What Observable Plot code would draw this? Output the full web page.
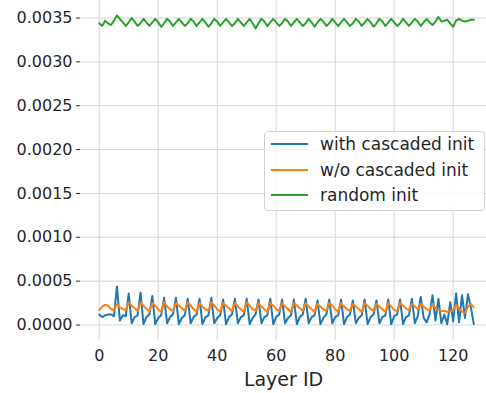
<!DOCTYPE html>
<html><head><meta charset="utf-8">
<script src="https://cdn.jsdelivr.net/npm/d3@7"></script>
<script src="https://cdn.jsdelivr.net/npm/@observablehq/plot@0.6"></script>
<style>
body{margin:0;background:#fff;}
#wrap{position:relative;width:486px;height:393px;overflow:hidden;font-family:"DejaVu Sans",sans-serif;}
#legend{position:absolute;left:264px;top:131px;width:219px;height:78px;border:1px solid #d0d0d0;border-radius:4px;background:rgba(255,255,255,0.85);}
.row{position:absolute;left:0;height:24px;line-height:24px;font-size:17px;color:#262626;white-space:nowrap;}
.row .sw{position:absolute;left:6px;top:11px;width:37px;height:2px;}
.row .lb{position:absolute;left:55px;top:0;}
</style></head>
<body><div id="wrap"></div>
<script>
const seriesNames = ["with cascaded init", "w/o cascaded init", "random init"];
const colors = ["#1f77b4", "#ff7f0e", "#2ca02c"];
const xTicks = [0, 20, 40, 60, 80, 100, 120];
const yTicks = [0, 0.0005, 0.001, 0.0015, 0.002, 0.0025, 0.003, 0.0035];

const withCascaded = [
0.00012,0.00009,0.00011,0.00012,0.00012,0.00010,0.00044,0.00005,0.00011,0.00010,
0.00036,0.00002,0.00009,0.00011,
0.00037,0.00001,0.00009,0.00012,
0.00033,0.00001,0.00008,0.00011,
0.00031,0.00002,0.00009,0.00012,
0.00031,0.00001,0.00008,0.00011,
0.00030,0.00002,0.00009,0.00012,
0.00030,0.00001,0.00009,0.00011,
0.00031,0.00002,0.00008,0.00011,
0.00029,0.00001,0.00009,0.00012,
0.00030,0.00002,0.00009,0.00011,
0.00030,0.00001,0.00008,0.00012,
0.00029,0.00002,0.00009,0.00011,
0.00030,0.00001,0.00009,0.00012,
0.00029,0.00002,0.00008,0.00011,
0.00029,0.00001,0.00009,0.00012,
0.00030,0.00002,0.00009,0.00011,
0.00028,0.00001,0.00008,0.00012,
0.00029,0.00002,0.00009,0.00011,
0.00029,0.00001,0.00009,0.00012,
0.00028,0.00002,0.00008,0.00011,
0.00029,0.00001,0.00009,0.00012,
0.00028,0.00002,0.00009,0.00011,
0.00029,0.00001,
0.00010,0.00012,0.00029,0.00001,0.00009,0.00011,0.00030,0.00002,0.00010,0.00032,
0.00008,0.00003,0.00012,0.00034,0.00005,0.00030,0.00002,0.00012,0.00001,0.00026,
0.00004,0.00036,0.00003,0.00034,0.00008,0.00035,0.00020,0.00001
];

const withoutCascaded = [
0.00017,0.00021,0.00023,0.00022,0.00018,0.00017,0.00024,0.00020,0.00018,0.00017,
0.00026,0.00022,0.00019,0.00016,
0.00026,0.00022,0.00018,0.00016,
0.00025,0.00022,0.00018,0.00015,
0.00026,0.00021,0.00018,0.00016,
0.00025,0.00022,0.00019,0.00016,
0.00026,0.00022,0.00018,0.00015,
0.00025,0.00021,0.00018,0.00016,
0.00026,0.00022,0.00018,0.00015,
0.00025,0.00022,0.00019,0.00016,
0.00025,0.00021,0.00018,0.00015,
0.00026,0.00022,0.00018,0.00016,
0.00025,0.00021,0.00018,0.00015,
0.00025,0.00022,0.00018,0.00016,
0.00025,0.00021,0.00018,0.00015,
0.00025,0.00022,0.00019,0.00016,
0.00025,0.00021,0.00018,0.00015,
0.00024,0.00021,0.00018,0.00016,
0.00025,0.00022,0.00018,0.00015,
0.00025,0.00021,0.00018,0.00016,
0.00024,0.00021,0.00018,0.00015,
0.00025,0.00022,0.00018,0.00016,
0.00024,0.00021,0.00018,0.00015,
0.00025,0.00021,
0.00017,0.00016,0.00025,0.00022,0.00019,0.00017,0.00024,0.00021,0.00018,0.00024,
0.00021,0.00018,0.00017,0.00024,0.00019,0.00017,0.00016,0.00016,0.00015,0.00016,
0.00017,0.00023,0.00019,0.00015,0.00014,0.00021,0.00024,0.00020
];

const randomInit = [
0.00344,0.00341,0.00347,0.00344,0.00342,0.00347,0.00353,0.00349,0.00345,0.00341,
0.00345,0.00350,0.00346,0.00341,
0.00344,0.00349,0.00345,0.00341,
0.00345,0.00349,0.00345,0.00340,
0.00344,0.00349,0.00346,0.00341,
0.00345,0.00349,0.00345,0.00341,
0.00344,0.00349,0.00346,0.00341,
0.00345,0.00349,0.00345,0.00340,
0.00344,0.00349,0.00346,0.00341,
0.00345,0.00349,0.00345,0.00341,
0.00344,0.00349,0.00345,0.00341,
0.00345,0.00349,0.00344,0.00338,
0.00344,0.00349,0.00346,0.00341,
0.00345,0.00349,0.00345,0.00341,
0.00344,0.00349,0.00346,0.00341,
0.00345,0.00349,0.00345,0.00341,
0.00344,0.00349,0.00345,0.00340,
0.00345,0.00349,0.00346,0.00341,
0.00344,0.00349,0.00345,0.00341,
0.00345,0.00349,0.00345,0.00341,
0.00344,0.00349,0.00346,0.00341,
0.00345,0.00349,0.00345,0.00340,
0.00344,0.00349,0.00346,0.00341,
0.00345,0.00349,0.00345,0.00341,
0.00344,0.00349,0.00345,0.00341,
0.00345,0.00349,0.00346,0.00341,
0.00345,0.00349,0.00345,0.00342,
0.00346,0.00351,0.00346,0.00347,
0.00348,0.00344,0.00340,0.00347,
0.00349,0.00347,0.00346,0.00347,0.00348,0.00348
];

const allSeries = [withCascaded, withoutCascaded, randomInit];
const rows = [];
allSeries.forEach((arr, s) => arr.forEach((v, i) => rows.push({layer: i, value: v, series: seriesNames[s]})));

const chart = Plot.plot({
  width: 486, height: 393,
  marginLeft: 80, marginRight: 0, marginTop: 0, marginBottom: 53,
  style: {fontFamily: "DejaVu Sans, sans-serif", fontSize: "16px", color: "#262626", background: "#fff"},
  x: {domain: [-6.35, 131.3], label: null},
  y: {domain: [-0.000177, 0.0037], label: null},
  color: {domain: seriesNames, range: colors},
  marks: [
    Plot.gridX(xTicks, {stroke: "#d5d5d5", strokeOpacity: 1, strokeWidth: 1}),
    Plot.gridY(yTicks, {stroke: "#d5d5d5", strokeOpacity: 1, strokeWidth: 1}),
    Plot.axisY(yTicks, {tickFormat: d => d.toFixed(4), tickSize: 4, tickPadding: 4, stroke: "#262626", fontSize: 16, label: null}),
    Plot.axisX(xTicks, {tickSize: 0, tickPadding: 9, fontSize: 16, label: null}),
    Plot.text(["Layer ID"], {frameAnchor: "bottom", dy: 45, fontSize: 19, fill: "#262626"}),
    Plot.lineY(rows, {x: "layer", y: "value", z: "series", stroke: "series", strokeWidth: 2})
  ]
});
const wrap = document.getElementById("wrap");
wrap.appendChild(chart);

const legend = document.createElement("div");
legend.id = "legend";
seriesNames.forEach((n, i) => {
  const r = document.createElement("div");
  r.className = "row";
  r.style.top = (0 + i * 25.5) + "px";
  r.innerHTML = `<div class="sw" style="background:${colors[i]}"></div><div class="lb">${n}</div>`;
  legend.appendChild(r);
});
wrap.appendChild(legend);
</script></body></html>
